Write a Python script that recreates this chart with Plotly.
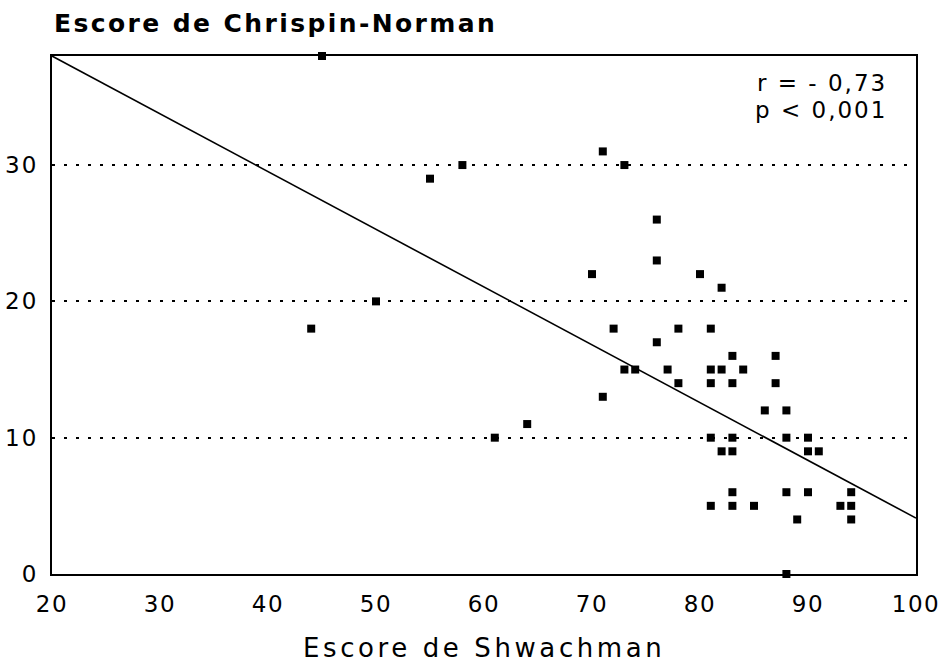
import numpy as np
import plotly.graph_objects as go

# Shwachman score (x) vs Chrispin-Norman score (y)
shwachman = [45, 58, 55, 50, 44, 64, 61,
             71, 73, 76, 76, 70, 80, 82,
             72, 78, 81, 76, 83, 87,
             73, 74, 77, 81, 82, 84,
             78, 81, 83, 87, 71, 86, 88,
             81, 83, 88, 90, 82, 83, 90, 91,
             83, 88, 90, 94, 81, 83, 85, 93, 94,
             89, 94, 88]
chrispin = [38, 30, 29, 20, 18, 11, 10,
            31, 30, 26, 23, 22, 22, 21,
            18, 18, 18, 17, 16, 16,
            15, 15, 15, 15, 15, 15,
            14, 14, 14, 14, 13, 12, 12,
            10, 10, 10, 10, 9, 9, 9, 9,
            6, 6, 6, 6, 5, 5, 5, 5, 5,
            4, 4, 0]

# regression line parameters (as drawn)
reg_intercept = 46.475
reg_slope = -0.42375
reg_x_range = [20, 100]

x_ticks = [20, 30, 40, 50, 60, 70, 80, 90, 100]
y_ticks = [0, 10, 20, 30]

title_text = "Escore de Chrispin-Norman"
xlabel_text = "Escore de Shwachman"
stats_r = "r = - 0,73"
stats_p = "p < 0,001"


def spaced(text, px):
    return '<span style="letter-spacing:%spx">%s</span>' % (px, text)


reg_x = np.array(reg_x_range, dtype=float)
reg_y = reg_intercept + reg_slope * reg_x

fig = go.Figure()
fig.add_trace(go.Scatter(x=reg_x, y=reg_y, mode="lines",
                         line=dict(color="black", width=1.6),
                         hoverinfo="skip", showlegend=False))
fig.add_trace(go.Scatter(x=shwachman, y=chrispin, mode="markers",
                         marker=dict(symbol="square", size=8, color="black",
                                     line=dict(width=0)),
                         showlegend=False, cliponaxis=False))

font_family = "DejaVu Sans, Liberation Sans, Arial, sans-serif"
tick_font = dict(size=23, family=font_family)

fig.update_layout(
    width=950, height=665,
    margin=dict(l=52, r=34, t=56, b=91, autoexpand=False),
    paper_bgcolor="white", plot_bgcolor="white",
    font=dict(family=font_family, color="black"),
    xaxis=dict(range=[20, 100], tickvals=x_ticks,
               ticktext=[spaced(str(v), 1.5) for v in x_ticks],
               showgrid=False, automargin=False,
               ticklabeloverflow="allow",
               zeroline=False, showline=True, mirror=True,
               linecolor="black", linewidth=2, ticks="",
               ticklabelstandoff=8,
               tickfont=tick_font),
    yaxis=dict(range=[0, 38], tickvals=y_ticks,
               ticktext=[spaced(str(v), 2) for v in y_ticks],
               showgrid=True, automargin=False,
               ticklabeloverflow="allow",
               gridcolor="black", gridwidth=2, griddash="3px,9px",
               zeroline=False, showline=True, mirror=True,
               linecolor="black", linewidth=2, ticks="",
               ticklabelstandoff=7,
               tickfont=tick_font),
    annotations=[
        dict(text=spaced(title_text, 2.4), xref="paper", yref="paper", x=0, y=1,
             xanchor="left", yanchor="bottom", yshift=16, showarrow=False,
             font=dict(size=25, family=font_family, weight="bold")),
        dict(text=spaced(xlabel_text, 3.6), xref="paper", yref="paper", x=0.5, y=0,
             xanchor="center", yanchor="top", yshift=-57, showarrow=False,
             font=dict(size=26, family=font_family)),
        dict(text=spaced(stats_r, 2), xref="paper", yref="paper", x=0.969, y=1,
             xanchor="right", yanchor="middle", yshift=-27, showarrow=False,
             font=dict(size=23, family=font_family)),
        dict(text=spaced(stats_p, 2), xref="paper", yref="paper", x=0.969, y=1,
             xanchor="right", yanchor="middle", yshift=-54, showarrow=False,
             font=dict(size=23, family=font_family)),
    ],
)

fig.write_html("out.html")
